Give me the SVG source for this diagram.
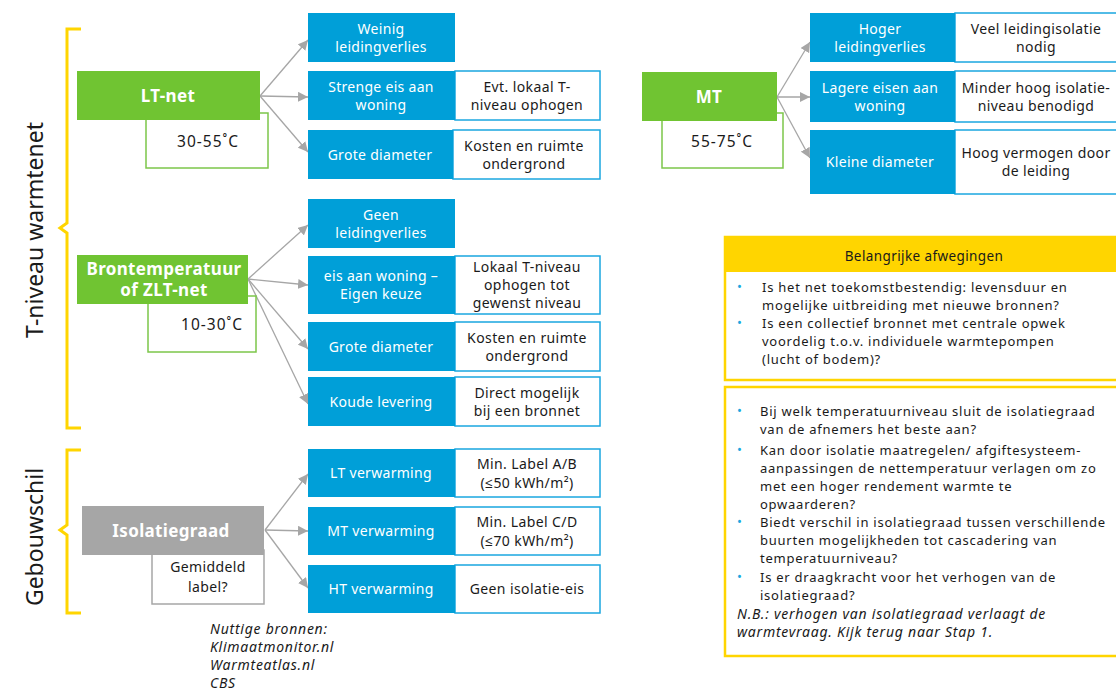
<svg xmlns="http://www.w3.org/2000/svg" width="1116" height="690" viewBox="0 0 1116 690">
  <defs>
    <marker id="arr" viewBox="0 0 10 10" refX="10" refY="5" markerWidth="10" markerHeight="10" markerUnits="userSpaceOnUse" orient="auto">
      <path d="M0,0 L10,5 L0,10 z" fill="#a6a6a6"/>
    </marker>
    <style>
      text { font-family: "Noto Sans", "Open Sans", sans-serif; }
      .green { fill: #70c432; }
      .grey { fill: #a6a6a6; }
      .blue { fill: #009fd8; }
      .temp { fill: #ffffff; stroke: #7cc64a; stroke-width: 1.5; }
      .tempg { fill: #ffffff; stroke: #a6a6a6; stroke-width: 1.5; }
      .note { fill: #ffffff; stroke: #1aa7e0; stroke-width: 1.5; }
      .hd { fill: #ffffff; font-size: 17px; font-weight: bold; text-anchor: middle; letter-spacing: 0.35px; }
      .bt { fill: #ffffff; font-size: 14px; text-anchor: middle; letter-spacing: 0.3px; }
      .nt { fill: #1a1a1a; font-size: 14px; text-anchor: middle; letter-spacing: 0.4px; }
      .tt { fill: #1a1a1a; font-size: 15.5px; text-anchor: middle; letter-spacing: 1px; }
      .bl { fill: #1a1a1a; font-size: 13px; letter-spacing: 0.75px; }
      .dot { fill: #1aa7e0; font-size: 13px; }
      .it { fill: #1a1a1a; font-size: 14px; font-style: italic; letter-spacing: 0.75px; }
      .side { fill: #1a1a1a; font-size: 23px; text-anchor: middle; }
      .brace { fill: none; stroke: #ffd500; stroke-width: 3; }
      .conn line { stroke: #a6a6a6; stroke-width: 1.3; marker-end: url(#arr); }
    </style>
  </defs>

  <!-- side labels and braces -->
  <g id="brace-warmtenet">
    <path class="brace" d="M81,29 L67,29 L67,223 L60,228 L67,233 L67,428 L81,428"/>
    <text class="side" transform="translate(43,230) rotate(-90)">T-niveau warmtenet</text>
  </g>
  <g id="brace-gebouwschil">
    <path class="brace" d="M81,450 L67,450 L67,525 L60,530 L67,535 L67,613 L81,613"/>
    <text class="side" transform="translate(43,537) rotate(-90)">Gebouwschil</text>
  </g>

  <!-- connectors -->
  <g id="connectors" class="conn">
    <line x1="260" y1="96" x2="308" y2="40"/>
    <line x1="260" y1="96" x2="308" y2="97"/>
    <line x1="260" y1="96" x2="308" y2="152"/>
    <line x1="248" y1="279" x2="308" y2="225"/>
    <line x1="248" y1="279" x2="308" y2="285"/>
    <line x1="248" y1="279" x2="308" y2="349"/>
    <line x1="248" y1="279" x2="308" y2="404"/>
    <line x1="265" y1="530" x2="308" y2="474"/>
    <line x1="265" y1="530" x2="308" y2="531"/>
    <line x1="265" y1="530" x2="308" y2="588"/>
    <line x1="777" y1="97" x2="810" y2="42"/>
    <line x1="777" y1="97" x2="810" y2="97"/>
    <line x1="777" y1="97" x2="810" y2="158"/>
  </g>

  <!-- LT-net -->
  <g id="lt-net">
    <rect class="temp" x="146" y="113" width="122" height="55"/>
    <text class="tt" x="208" y="147">30-55˚C</text>
    <rect class="green" x="77" y="71" width="183" height="49"/>
    <text class="hd" x="168" y="102">LT-net</text>
  </g>
  <g id="lt-weinig">
    <rect class="blue" x="308" y="13" width="147" height="49"/>
    <text class="bt" x="381" y="34">Weinig</text>
    <text class="bt" x="381" y="52">leidingverlies</text>
  </g>
  <g id="lt-eis">
    <rect class="note" x="455" y="71" width="145" height="49"/>
    <text class="nt" x="527" y="92">Evt. lokaal T-</text>
    <text class="nt" x="527" y="110">niveau ophogen</text>
    <rect class="blue" x="308" y="71" width="147" height="49"/>
    <text class="bt" x="381" y="92">Strenge eis aan</text>
    <text class="bt" x="381" y="110">woning</text>
  </g>
  <g id="lt-diameter">
    <rect class="note" x="453" y="130" width="147" height="49"/>
    <text class="nt" x="524" y="151">Kosten en ruimte</text>
    <text class="nt" x="524" y="169">ondergrond</text>
    <rect class="blue" x="308" y="130" width="145" height="49"/>
    <text class="bt" x="380" y="160">Grote diameter</text>
  </g>

  <!-- Brontemperatuur / ZLT-net -->
  <g id="zlt-net">
    <rect class="temp" x="148" y="296" width="108" height="56"/>
    <text class="tt" x="212" y="330">10-30˚C</text>
    <rect class="green" x="77" y="255" width="171" height="49"/>
    <text class="hd" x="164" y="275">Brontemperatuur</text>
    <text class="hd" x="164" y="296">of ZLT-net</text>
  </g>
  <g id="zlt-geen">
    <rect class="blue" x="308" y="199" width="147" height="49"/>
    <text class="bt" x="381" y="220">Geen</text>
    <text class="bt" x="381" y="238">leidingverlies</text>
  </g>
  <g id="zlt-eis">
    <rect class="note" x="455" y="256" width="145" height="58"/>
    <text class="nt" x="527" y="272">Lokaal T-niveau</text>
    <text class="nt" x="527" y="290">ophogen tot</text>
    <text class="nt" x="527" y="308">gewenst niveau</text>
    <rect class="blue" x="308" y="256" width="147" height="58"/>
    <text class="bt" x="381" y="281">eis aan woning –</text>
    <text class="bt" x="381" y="299">Eigen keuze</text>
  </g>
  <g id="zlt-diameter">
    <rect class="note" x="455" y="322" width="145" height="49"/>
    <text class="nt" x="527" y="343">Kosten en ruimte</text>
    <text class="nt" x="527" y="361">ondergrond</text>
    <rect class="blue" x="308" y="322" width="147" height="49"/>
    <text class="bt" x="381" y="352">Grote diameter</text>
  </g>
  <g id="zlt-koude">
    <rect class="note" x="455" y="377" width="145" height="49"/>
    <text class="nt" x="527" y="398">Direct mogelijk</text>
    <text class="nt" x="527" y="416">bij een bronnet</text>
    <rect class="blue" x="308" y="377" width="147" height="49"/>
    <text class="bt" x="381" y="407">Koude levering</text>
  </g>

  <!-- Isolatiegraad -->
  <g id="isolatiegraad">
    <rect class="tempg" x="152" y="550" width="112" height="54"/>
    <text class="nt" x="208" y="572">Gemiddeld</text>
    <text class="nt" x="208" y="592">label?</text>
    <rect class="grey" x="82" y="506" width="182" height="49"/>
    <text class="hd" x="171" y="537">Isolatiegraad</text>
  </g>
  <g id="iso-lt">
    <rect class="note" x="455" y="449" width="145" height="48"/>
    <text class="nt" x="527" y="469">Min. Label A/B</text>
    <text class="nt" x="527" y="488">(≤50 kWh/m²)</text>
    <rect class="blue" x="308" y="449" width="147" height="48"/>
    <text class="bt" x="381" y="478">LT verwarming</text>
  </g>
  <g id="iso-mt">
    <rect class="note" x="455" y="507" width="145" height="48"/>
    <text class="nt" x="527" y="527">Min. Label C/D</text>
    <text class="nt" x="527" y="546">(≤70 kWh/m²)</text>
    <rect class="blue" x="308" y="507" width="147" height="48"/>
    <text class="bt" x="381" y="536">MT verwarming</text>
  </g>
  <g id="iso-ht">
    <rect class="note" x="455" y="565" width="145" height="48"/>
    <text class="nt" x="527" y="594">Geen isolatie-eis</text>
    <rect class="blue" x="308" y="565" width="147" height="48"/>
    <text class="bt" x="381" y="594">HT verwarming</text>
  </g>

  <g id="bronnen">
    <text class="it" x="210" y="634">Nuttige bronnen:</text>
    <text class="it" x="210" y="652">Klimaatmonitor.nl</text>
    <text class="it" x="210" y="670">Warmteatlas.nl</text>
    <text class="it" x="210" y="688">CBS</text>
  </g>

  <!-- MT -->
  <g id="mt">
    <rect class="temp" x="662" y="113" width="121" height="55"/>
    <text class="tt" x="722" y="147">55-75˚C</text>
    <rect class="green" x="642" y="72" width="135" height="49"/>
    <text class="hd" x="709" y="103">MT</text>
  </g>
  <g id="mt-hoger">
    <rect class="note" x="955" y="13" width="165" height="49"/>
    <text class="nt" x="1036" y="34">Veel leidingisolatie</text>
    <text class="nt" x="1036" y="52">nodig</text>
    <rect class="blue" x="810" y="13" width="145" height="49"/>
    <text class="bt" x="880" y="34">Hoger</text>
    <text class="bt" x="880" y="52">leidingverlies</text>
  </g>
  <g id="mt-lagere">
    <rect class="note" x="955" y="71" width="165" height="51"/>
    <text class="nt" x="1036" y="93">Minder hoog isolatie-</text>
    <text class="nt" x="1036" y="111">niveau benodigd</text>
    <rect class="blue" x="810" y="71" width="145" height="51"/>
    <text class="bt" x="880" y="93">Lagere eisen aan</text>
    <text class="bt" x="880" y="111">woning</text>
  </g>
  <g id="mt-kleine">
    <rect class="note" x="955" y="130" width="165" height="64"/>
    <text class="nt" x="1036" y="158">Hoog vermogen door</text>
    <text class="nt" x="1036" y="176">de leiding</text>
    <rect class="blue" x="810" y="130" width="145" height="64"/>
    <text class="bt" x="880" y="167">Kleine diameter</text>
  </g>

  <!-- considerations -->
  <g id="afwegingen">
    <rect x="725" y="237" width="400" height="143" fill="#ffffff" stroke="#ffd500" stroke-width="2.5"/>
    <rect x="725" y="237" width="400" height="35" fill="#ffd500"/>
    <text x="924" y="261" fill="#1a1a1a" font-size="13.5" text-anchor="middle" letter-spacing="0.4">Belangrijke afwegingen</text>
    <text class="dot" x="737" y="291">•</text>
    <text class="bl" x="762" y="292">Is het net toekomstbestendig: levensduur en</text>
    <text class="bl" x="762" y="310">mogelijke uitbreiding met nieuwe bronnen?</text>
    <text class="dot" x="737" y="327">•</text>
    <text class="bl" x="762" y="328">Is een collectief bronnet met centrale opwek</text>
    <text class="bl" x="762" y="346">voordelig t.o.v. individuele warmtepompen</text>
    <text class="bl" x="762" y="364">(lucht of bodem)?</text>
  </g>
  <g id="isolatie-vragen">
    <rect x="725" y="387" width="400" height="269" fill="#ffffff" stroke="#ffd500" stroke-width="2.5"/>
    <text class="dot" x="737" y="415">•</text>
    <text class="bl" x="760" y="416">Bij welk temperatuurniveau sluit de isolatiegraad</text>
    <text class="bl" x="760" y="434">van de afnemers het beste aan?</text>
    <text class="dot" x="737" y="454">•</text>
    <text class="bl" x="760" y="455">Kan door isolatie maatregelen/ afgiftesysteem-</text>
    <text class="bl" x="760" y="473">aanpassingen de nettemperatuur verlagen om zo</text>
    <text class="bl" x="760" y="491">met een hoger rendement warmte te</text>
    <text class="bl" x="760" y="509">opwaarderen?</text>
    <text class="dot" x="737" y="526">•</text>
    <text class="bl" x="760" y="527">Biedt verschil in isolatiegraad tussen verschillende</text>
    <text class="bl" x="760" y="545">buurten mogelijkheden tot cascadering van</text>
    <text class="bl" x="760" y="563">temperatuurniveau?</text>
    <text class="dot" x="737" y="581">•</text>
    <text class="bl" x="760" y="582">Is er draagkracht voor het verhogen van de</text>
    <text class="bl" x="760" y="600">isolatiegraad?</text>
    <text class="it" x="737" y="619">N.B.: verhogen van isolatiegraad verlaagt de</text>
    <text class="it" x="737" y="637">warmtevraag. Kijk terug naar Stap 1.</text>
  </g>
</svg>
